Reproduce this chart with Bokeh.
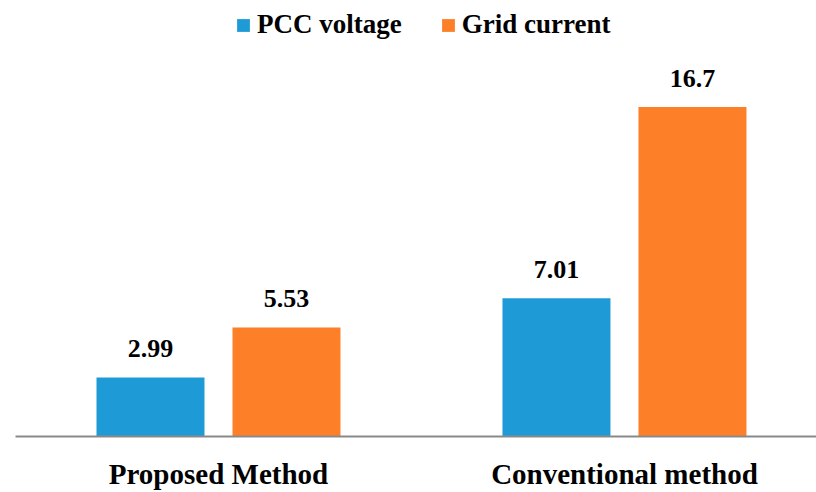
import numpy as np
from bokeh.plotting import figure
from bokeh.models import Range1d, FixedTicker, Legend, LegendItem, ColumnDataSource
from bokeh.core.properties import value
from bokeh.embed import file_html
from bokeh.resources import INLINE

categories = ["Proposed Method", "Conventional method"]
series_names = ["PCC voltage", "Grid current"]
pcc_voltage = [2.99, 7.01]
grid_current = [5.53, 16.7]

BLUE = "#1E9BD7"
ORANGE = "#FD7F28"
FONT = "Liberation Serif"

pos = np.arange(len(categories)) + 0.5
offset = 0.1675
bar_w = 0.266

p = figure(width=816, height=492, output_backend="svg", toolbar_location=None,
           x_range=Range1d(0, 1.973), y_range=Range1d(0, 22.1),
           y_axis_location=None,
           min_border_left=15, min_border_right=0, min_border_top=0, min_border_bottom=54)
p.outline_line_color = None
p.xgrid.visible = False
p.ygrid.visible = False
p.background_fill_color = "white"
p.border_fill_color = "white"

src_a = ColumnDataSource(dict(x=pos - offset, top=pcc_voltage, lab=[f"{v:g}" for v in pcc_voltage]))
src_b = ColumnDataSource(dict(x=pos + offset, top=grid_current, lab=[f"{v:g}" for v in grid_current]))

ra = p.vbar(x="x", top="top", width=bar_w, source=src_a, fill_color=BLUE, line_color=None)
rb = p.vbar(x="x", top="top", width=bar_w, source=src_b, fill_color=ORANGE, line_color=None)

for src in (src_a, src_b):
    p.text(x="x", y="top", text="lab", source=src, text_align="center",
           text_baseline="alphabetic", y_offset=-29, text_font=value(FONT),
           text_font_style="bold", text_font_size="26px", text_color="black")

ax = p.xaxis[0]
ax.ticker = FixedTicker(ticks=list(pos))
ax.major_label_overrides = {float(x): c for x, c in zip(pos, categories)}
ax.major_tick_in = 0
ax.major_tick_out = 0
ax.minor_tick_in = 0
ax.minor_tick_out = 0
ax.axis_line_color = "#898989"
ax.axis_line_width = 2
ax.major_label_standoff = 21
ax.major_label_text_font = FONT
ax.major_label_text_font_style = "bold"
ax.major_label_text_font_size = "29px"
ax.major_label_text_color = "black"

legend = Legend(items=[LegendItem(label=series_names[0], renderers=[ra]),
                       LegendItem(label=series_names[1], renderers=[rb])],
                orientation="horizontal", location=(220, 396))
legend.padding = 0
legend.margin = 0
legend.spacing = 38
legend.label_standoff = 6
legend.glyph_width = 16
legend.glyph_height = 16
legend.border_line_color = None
legend.background_fill_alpha = 0
legend.label_text_font = FONT
legend.label_text_font_style = "bold"
legend.label_text_font_size = "27px"
legend.label_text_color = "black"
p.add_layout(legend)

open("out.html", "w").write(file_html(p, INLINE))
